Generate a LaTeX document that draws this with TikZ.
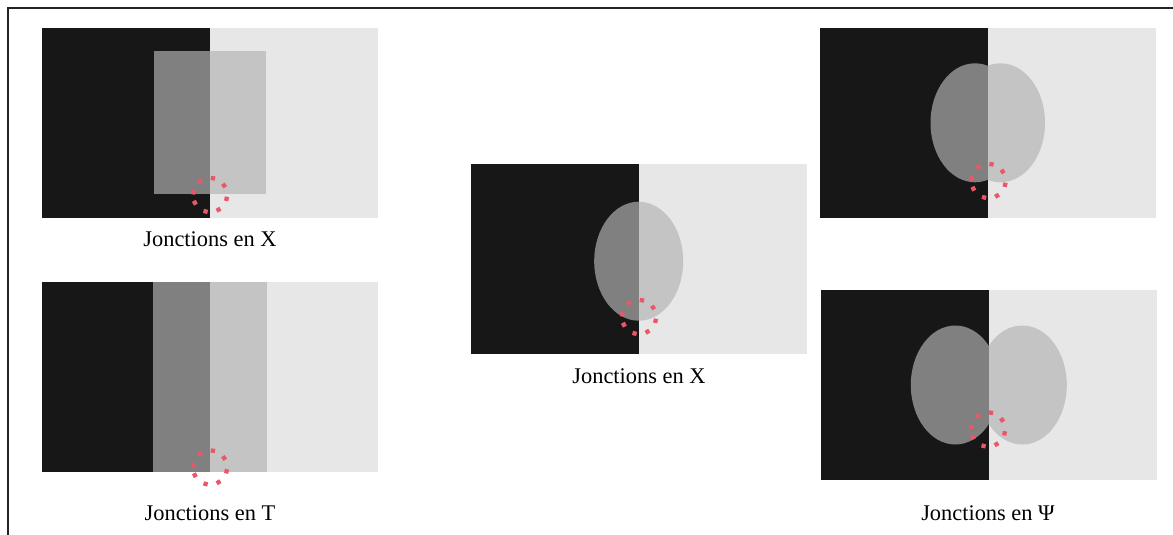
\documentclass[tikz,border=0pt]{standalone}
\usepackage{fontspec}
\setmainfont{Liberation Serif}
\definecolor{jdark}{RGB}{23,23,23}
\definecolor{jlight}{RGB}{231,231,231}
\definecolor{jmid}{RGB}{128,128,128}
\definecolor{jpale}{RGB}{196,196,196}
\definecolor{jred}{RGB}{232,88,104}
\definecolor{jframe}{RGB}{35,35,35}
\begin{document}
\begin{tikzpicture}[x=1pt, y=-1pt,
  caption/.style={anchor=base, inner sep=0pt, font=\fontsize{22.4}{26}\selectfont},
  jdot/.style={rectangle, fill=jred, inner sep=0pt, minimum size=4.3pt},
  blob/.style={x radius=44.5pt, y radius=59.5pt}
]
\useasboundingbox (0,0) rectangle (1173,535);
\draw[jframe, line width=1.7pt] (8,535) -- (8,8) -- (1173,8);

% X junction, rectangles
\fill[jdark] (42,28) rectangle (210,218);
\fill[jlight] (210,28) rectangle (378,218);
\fill[jmid] (154,51) rectangle (210,194);
\fill[jpale] (210,51) rectangle (266,194);
\node[caption] (capXa) at (210,246.5) {Jonctions en X};
\coordinate (jA) at (210,195);

% T junction
\fill[jdark] (42,282) rectangle (153,472);
\fill[jmid] (153,282) rectangle (210,472);
\fill[jpale] (210,282) rectangle (267,472);
\fill[jlight] (267,282) rectangle (378,472);
\node[caption] (capT) at (210,520.5) {Jonctions en T};
\coordinate (jB) at (210,467.5);

% X junction, ellipse
\fill[jdark] (471,164) rectangle (639,354);
\fill[jlight] (639,164) rectangle (807,354);
\begin{scope}
  \clip (471,164) rectangle (639,354);
  \fill[jmid] (638.7,261.2) ellipse [blob];
\end{scope}
\begin{scope}
  \clip (639,164) rectangle (807,354);
  \fill[jpale] (638.7,261.2) ellipse [blob];
\end{scope}
\node[caption] (capXb) at (639,383.3) {Jonctions en X};
\coordinate (jC) at (639,317);

% two ellipses, close
\fill[jdark] (820,28) rectangle (988,218);
\fill[jlight] (988,28) rectangle (1156,218);
\begin{scope}
  \clip (820,28) rectangle (988,218);
  \fill[jmid] (975,122.8) ellipse [blob];
\end{scope}
\begin{scope}
  \clip (988,28) rectangle (1156,218);
  \fill[jpale] (1000.5,122.8) ellipse [blob];
\end{scope}
\coordinate (jD) at (988.5,181);

% Psi junction
\fill[jdark] (821,290) rectangle (989,480);
\fill[jlight] (989,290) rectangle (1157,480);
\begin{scope}
  \clip (821,290) rectangle (989,480);
  \fill[jmid] (955.3,385) ellipse [blob];
\end{scope}
\begin{scope}
  \clip (989,290) rectangle (1157,480);
  \fill[jpale] (1022.3,385) ellipse [blob];
\end{scope}
\node[caption] (capPsi) at (988,520.5) {Jonctions en Ψ};
\coordinate (jE) at (988,429.5);

% dotted rings
\foreach \c in {jA,jB,jC,jD,jE}
  \foreach \a in {13,-34,-80,-126,-171,-207,-255,-300}
    \node[jdot, rotate=-\a] at ([shift={(\a:17)}]\c) {};
\end{tikzpicture}
\end{document}
